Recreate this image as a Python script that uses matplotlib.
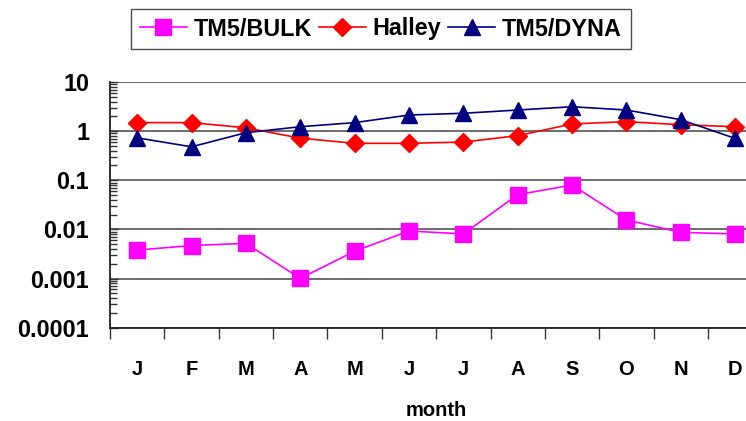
import matplotlib
matplotlib.use("Agg")
import matplotlib.pyplot as plt
from matplotlib.ticker import LogLocator, NullFormatter, FixedLocator, FixedFormatter

months = ["J", "F", "M", "A", "M", "J", "J", "A", "S", "O", "N", "D"]
tm5_bulk = [0.0038, 0.0047, 0.0052, 0.00101, 0.0036, 0.0093, 0.0081, 0.051, 0.080, 0.0156, 0.0087, 0.0081]
halley = [1.49, 1.49, 1.17, 0.72, 0.565, 0.565, 0.60, 0.81, 1.40, 1.56, 1.35, 1.23]
tm5_dyna = [0.73, 0.48, 0.93, 1.23, 1.49, 2.13, 2.31, 2.69, 3.14, 2.69, 1.71, 0.71]
y_ticks = [0.0001, 0.001, 0.01, 0.1, 1, 10]
y_tick_labels = ["0.0001", "0.001", "0.01", "0.1", "1", "10"]

plt.rcParams["font.family"] = ["Liberation Sans", "DejaVu Sans"]
plt.rcParams["font.weight"] = "bold"

fig = plt.figure(figsize=(7.46, 4.21), dpi=100)
ax = fig.add_axes([110 / 746, 93.3 / 421, 652.4 / 746, 245.7 / 421])

x = list(range(len(months)))
ax.plot(x, tm5_bulk, color="#FF00FF", lw=1.2, marker="s", ms=11.5,
        mfc="#FF00FF", mec="#FF00FF", label="TM5/BULK", zorder=3)
ax.plot(x, halley, color="#FF0000", lw=1.2, marker="D", ms=9.2,
        mfc="#FF0000", mec="#FF0000", label="Halley", zorder=4)
ax.plot(x, tm5_dyna, color="#000080", lw=1.2, marker="^", ms=12,
        mfc="#000080", mec="#000080", label="TM5/DYNA", zorder=5)

ax.set_yscale("log")
ax.set_ylim(0.0001, 10)
ax.set_xlim(-0.5, len(months) - 0.5)

# y axis: decade labels, short inward minor ticks
ax.yaxis.set_major_locator(FixedLocator(y_ticks))
ax.yaxis.set_major_formatter(FixedFormatter(y_tick_labels))
ax.yaxis.set_minor_locator(LogLocator(base=10, subs=range(2, 10), numticks=20))
ax.yaxis.set_minor_formatter(NullFormatter())
ax.tick_params(axis="y", which="major", direction="in", length=6, width=1,
               color="#333333", labelsize=16.8, pad=15)
ax.tick_params(axis="y", which="minor", direction="in", length=5, width=1,
               color="#333333")
ax.grid(True, axis="y", which="major", color="#606060", lw=1.3, zorder=1)

# x axis: boundary ticks outside, month labels centred in each category
ax.xaxis.set_major_locator(FixedLocator([i - 0.5 for i in range(len(months) + 1)]))
ax.xaxis.set_major_formatter(NullFormatter())
ax.xaxis.set_minor_locator(FixedLocator(x))
ax.xaxis.set_minor_formatter(FixedFormatter(months))
ax.tick_params(axis="x", which="major", direction="out", length=8, width=1,
               color="#333333")
ax.tick_params(axis="x", which="minor", length=0, labelsize=14.5, pad=23)
ax.set_xlabel("month", fontsize=14.5, fontweight="bold", labelpad=16)

for side in ("top", "right"):
    ax.spines[side].set_visible(False)
for side in ("left", "bottom"):
    ax.spines[side].set_color("#222222")
    ax.spines[side].set_linewidth(1.3)

leg = fig.legend(loc="center", bbox_to_anchor=(381 / 746, 1 - 29 / 421), ncol=3,
                 fontsize=16.8, frameon=True, fancybox=False, handlelength=2.0,
                 handletextpad=0.3, columnspacing=0.3, borderpad=0.38,
                 borderaxespad=0)
leg.get_frame().set_edgecolor("#222222")
leg.get_frame().set_linewidth(1.0)

fig.savefig("out.png", dpi=100)
